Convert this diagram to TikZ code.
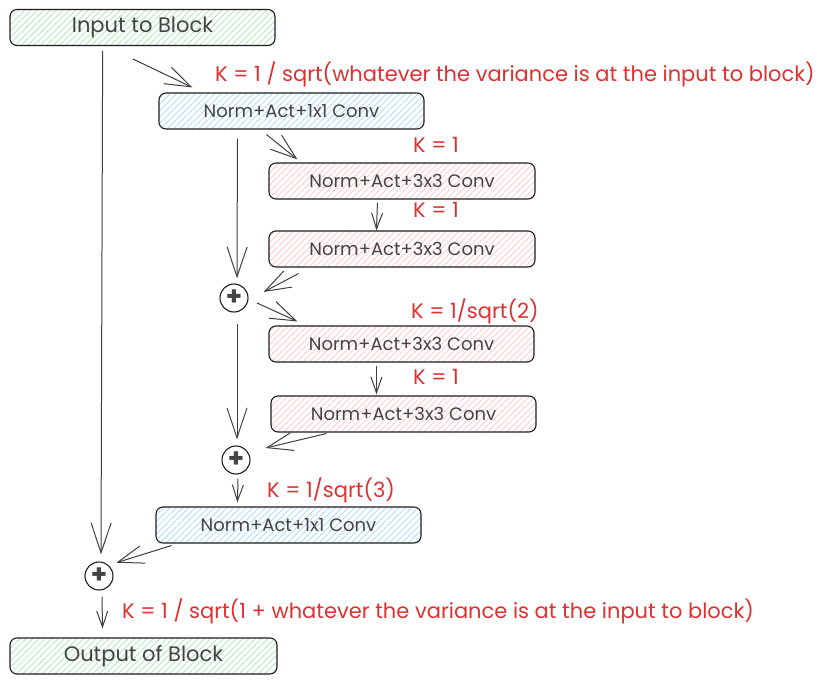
\documentclass[tikz,border=0pt]{standalone}
\usepackage{fontspec}
\setmainfont{Poppins}
\usetikzlibrary{arrows.meta,patterns.meta}
\definecolor{strokec}{HTML}{1E1E1E}
\definecolor{txtc}{HTML}{444444}
\definecolor{redc}{HTML}{E03131}
\definecolor{hgreen}{HTML}{A8E6B4}
\definecolor{hblue}{HTML}{A5D8FF}
\definecolor{hred}{HTML}{FFC4C4}
\tikzset{
  box/.style={draw=strokec, line width=1.1pt, rounded corners=7pt, minimum height=36pt,
    text=txtc, inner sep=0pt, font=\fontsize{18}{18}\selectfont},
  hatch/.style={pattern={Lines[angle=45,distance=4.5pt,line width=0.7pt]}, pattern color=#1},
  greenbox/.style={box, hatch=hgreen, font=\fontsize{21}{21}\selectfont},
  bluebox/.style={box, hatch=hblue},
  redbox/.style={box, hatch=hred},
  plusnode/.style={circle, draw=strokec, line width=1.1pt, minimum size=28pt, inner sep=0pt,
    text=txtc, font=\fontsize{26}{26}\selectfont\bfseries},
  klabel/.style={text=redc, anchor=base west, inner sep=0pt, font=\fontsize{21}{21}\selectfont},
  arr/.style={draw=strokec!85, line width=1pt, -{Straight Barb[length=26pt,width=18pt,line width=1pt]}},
  larr/.style={draw=strokec!85, line width=1pt, -{Straight Barb[length=30pt,width=20pt,line width=1pt]}},
  sarr/.style={draw=strokec!85, line width=1pt, -{Straight Barb[length=16pt,width=11pt,line width=1pt]}}
}
\begin{document}
\begin{tikzpicture}[x=1pt,y=-1pt]
\useasboundingbox[fill=white] (0,0) rectangle (829,684);
% boxes
\node[greenbox, minimum width=265pt] (in) at (142.5,27.5) {Input to Block};
\node[bluebox, minimum width=265pt] (b1) at (291.5,111) {Norm+Act+1x1 Conv};
\node[redbox, minimum width=266pt] (c1) at (402,181) {Norm+Act+3x3 Conv};
\node[redbox, minimum width=266pt] (c2) at (402,249) {Norm+Act+3x3 Conv};
\node[plusnode] (p1) at (234,298) {+};
\node[redbox, minimum width=265pt] (c3) at (401.5,344) {Norm+Act+3x3 Conv};
\node[redbox, minimum width=265pt] (c4) at (403.5,414) {Norm+Act+3x3 Conv};
\node[plusnode] (p2) at (236,460) {+};
\node[bluebox, minimum width=265pt] (b2) at (288.5,525) {Norm+Act+1x1 Conv};
\node[plusnode] (p3) at (99,576) {+};
\node[greenbox, minimum width=267pt] (out) at (143.5,656) {Output of Block};
% labels
\node[klabel] (k0) at (215,82) {K = 1 / sqrt(whatever the variance is at the input to block)};
\node[klabel] (k1) at (413,153) {K = 1};
\node[klabel] (k2) at (413,218) {K = 1};
\node[klabel] (k3) at (411,319) {K = 1/sqrt(2)};
\node[klabel] (k4) at (413,384) {K = 1};
\node[klabel] (k5) at (267,497) {K = 1/sqrt(3)};
\node[klabel] (k6) at (122,618) {K = 1 / sqrt(1 + whatever the variance is at the input to block)};
% connectors
\draw[larr] ([shift={(93,5)}]in.south west) -- ([shift={(2,-7)}]p3.north);
\draw[arr] ([shift={(123,13)}]in.south west) -- ([shift={(34,-5)}]b1.north west);
\draw[larr] ([shift={(79,9)}]b1.south west) -- ([shift={(3,-5)}]p1.north);
\draw[arr] ([shift={(108,5)}]b1.south west) -- ([shift={(29,-3)}]c1.north west);
\draw[sarr] ([shift={(109,3)}]c1.south west) -- ([shift={(108,0)}]c2.north west);
\draw[arr] ([shift={(30,6)}]c2.south west) -- ([shift={(15,-6)}]p1.east);
\draw[arr] ([shift={(23,5)}]p1.center) -- ([shift={(29,-4)}]c3.north west);
\draw[larr] ([shift={(3,11)}]p1.south) -- ([shift={(1,-6)}]p2.north);
\draw[sarr] ([shift={(108,3)}]c3.south west) -- ([shift={(106,-1)}]c4.north west);
\draw[arr] ([shift={(56,1)}]c4.south west) -- ([shift={(15,-12)}]p2.east);
\draw[sarr] ([shift={(2,4)}]p2.south) -- ([shift={(82,-4)}]b2.north west);
\draw[arr] ([shift={(16,2)}]b2.south west) -- ([shift={(7,-3)}]p3.north east);
\draw[sarr] ([shift={(3,6)}]p3.south) -- ([shift={(-41,-9)}]out.north);
\end{tikzpicture}
\end{document}
